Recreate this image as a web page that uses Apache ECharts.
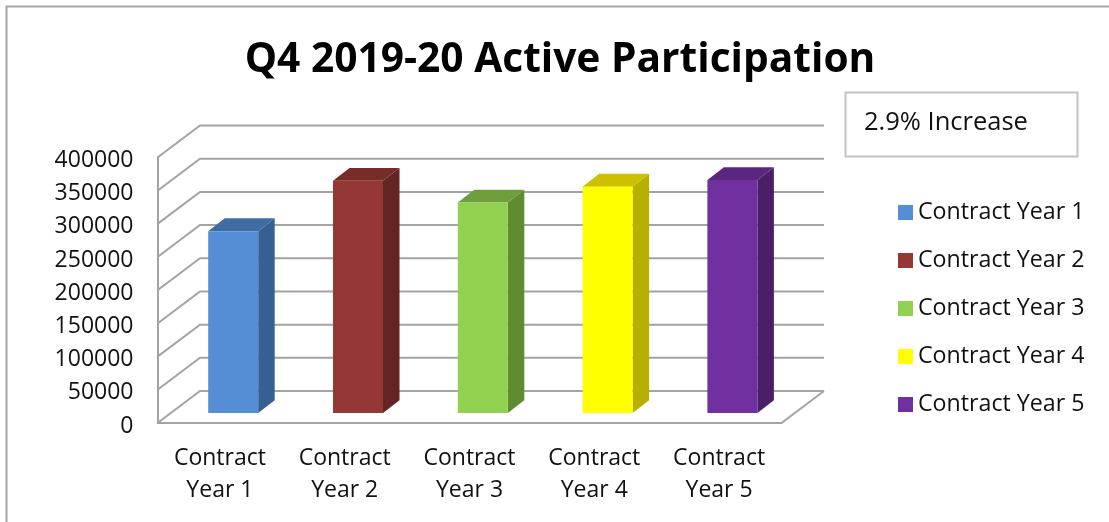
<!DOCTYPE html>
<html>
<head>
<meta charset="utf-8">
<style>html,body{margin:0;padding:0;background:#fff}#c{width:1109px;height:522px}</style>
<script src="https://cdn.jsdelivr.net/npm/echarts@6/dist/echarts.min.js"></script>
</head>
<body>
<div id="c"></div>
<script>
const categories = ['Contract Year 1','Contract Year 2','Contract Year 3','Contract Year 4','Contract Year 5'];
const participation = [274000, 350000, 317000, 341000, 351000];
const yTicks = [0, 50000, 100000, 150000, 200000, 250000, 300000, 350000, 400000];
const titleText = 'Q4 2019-20 Active Participation';
const noteText = '2.9% Increase';

const frontColors = ['#558ED5','#953735','#92D050','#FFFF00','#7030A0'];
const topColors   = ['#3F6CA3','#772C2A','#6F9E3C','#CCC000','#592680'];
const sideColors  = ['#376092','#632523','#5F8B33','#B8B000','#4A1F68'];

const FONT = 'Open Sans';
const WALL = '#a3a3a3';
const DX = 42.5, DY = 32;          // depth of the chart box
const BW = 50, BDX = 16.5, BDY = 12.8, BOFF = 13.3, BLIFT = 10; // bar geometry

function renderWall(params, api) {
  const v = api.value(0);
  const p = api.coord([categories[0], v]);
  const x0 = params.coordSys.x, x1 = x0 + params.coordSys.width;
  const y = p[1];
  const children = [{
    type: 'polyline',
    shape: { points: [[x0, y], [x0 + DX, y - DY], [x1 + DX, y - DY]] },
    style: { stroke: WALL, lineWidth: 2, fill: null }
  }];
  if (v === 0) {
    children.push({
      type: 'line',
      shape: { x1: x1, y1: y, x2: x1 + DX, y2: y - DY },
      style: { stroke: WALL, lineWidth: 2 }
    });
  }
  return { type: 'group', children };
}

function makeBar(i) {
  return function (params, api) {
    const cat = api.value(0), val = api.value(1);
    const base = api.coord([cat, 0]);
    const top = api.coord([cat, val]);
    const l = base[0] + BOFF - BW / 2, r = l + BW;
    const b = base[1] - BLIFT, t = top[1] - BLIFT;
    return {
      type: 'group',
      children: [
        { type: 'polygon', shape: { points: [[r, t], [r + BDX, t - BDY], [r + BDX, b - BDY], [r, b]] }, style: { fill: sideColors[i] } },
        { type: 'polygon', shape: { points: [[l, t], [l + BDX, t - BDY], [r + BDX, t - BDY], [r, t]] }, style: { fill: topColors[i] } },
        { type: 'rect', shape: { x: l, y: t, width: BW, height: b - t }, style: { fill: frontColors[i] } }
      ]
    };
  };
}

const chart = echarts.init(document.getElementById('c'), null, { renderer: 'canvas' });
chart.setOption({
  animation: false,
  backgroundColor: '#fff',
  title: {
    text: titleText, left: 555, top: 35, textAlign: 'center',
    textStyle: { fontFamily: FONT, fontSize: 40.7, fontWeight: 'bold', color: '#000' }
  },
  grid: { left: 157.5, top: 157.5, width: 624, height: 265.5 },
  xAxis: {
    type: 'category', data: categories,
    axisLine: { lineStyle: { color: WALL, width: 2 } },
    axisTick: { show: false },
    axisLabel: {
      fontFamily: FONT, fontSize: 23, color: '#111', lineHeight: 32, margin: 19, interval: 0,
      formatter: s => s.replace(' Year', '\nYear')
    }
  },
  yAxis: {
    type: 'value', min: 0, max: 400000, interval: 50000,
    axisLine: { show: true, lineStyle: { color: WALL, width: 2 } },
    axisTick: { show: false },
    splitLine: { show: false },
    axisLabel: { fontFamily: FONT, fontSize: 23, color: '#111', margin: 24, verticalAlign: 'top', lineHeight: 6, formatter: v => String(v) }
  },
  legend: {
    show: true, orient: 'vertical', left: 893, top: 195.5, itemWidth: 15, itemHeight: 15, itemGap: 24,
    icon: 'rect',
    data: categories,
    textStyle: { fontFamily: FONT, fontSize: 23.2, color: '#111', lineHeight: 24 }
  },
  graphic: [
    { type: 'polyline', silent: true, shape: { points: [[6.5, 522], [6.5, 6.5], [1109, 6.5]] }, style: { stroke: '#a6a6a6', lineWidth: 2, fill: null } },
    { type: 'rect', silent: true, shape: { x: 845.5, y: 92.5, width: 232, height: 64 }, style: { stroke: '#c4c4c4', lineWidth: 2, fill: '#fff' } },
    { type: 'text', silent: true, left: 864, top: 110, style: { text: noteText, fontFamily: FONT, fontSize: 25.5, fill: '#111' } }
  ],
  series: [
    {
      type: 'custom', name: 'walls', coordinateSystem: 'cartesian2d', clip: false, silent: true, z: 1,
      renderItem: renderWall, encode: { y: 0 },
      data: yTicks.map(v => [v])
    }
  ].concat(categories.map((c, i) => ({
    type: 'custom', name: c, coordinateSystem: 'cartesian2d', clip: false, z: 2,
    itemStyle: { color: frontColors[i] },
    renderItem: makeBar(i), encode: { x: 0, y: 1 },
    data: [[c, participation[i]]]
  })))
});
</script>
</body>
</html>
